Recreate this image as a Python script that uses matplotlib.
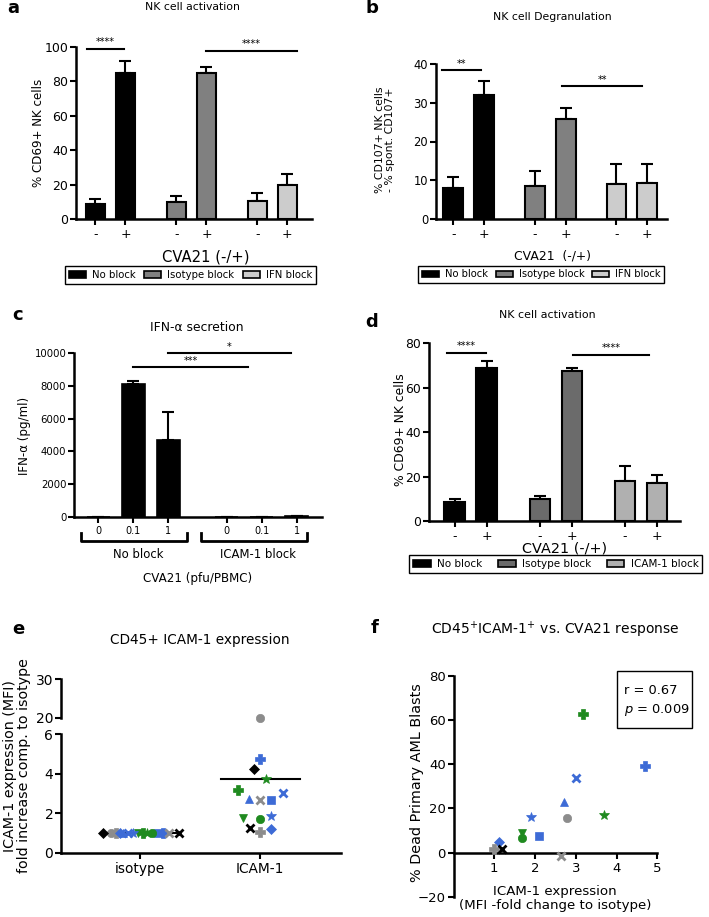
import matplotlib
matplotlib.use("Agg")
import matplotlib.pyplot as plt
from matplotlib.patches import Patch, Rectangle

W, H = 709, 917

# ---- data ----
groups_ab = ["No block", "Isotype block", "IFN block"]
groups_d = ["No block", "Isotype block", "ICAM-1 block"]
cva_ticks = ["-", "+", "-", "+", "-", "+"]

act_a = [8.5, 84.7, 10.1, 85.1, 10.5, 19.8]
act_a_err = [3.1, 7.2, 3.3, 3.4, 4.8, 6.2]

degr_b = [7.9, 32.0, 8.5, 25.8, 9.0, 9.3]
degr_b_err = [3.0, 3.7, 3.9, 2.8, 5.1, 4.8]

ifn_doses = ["0", "0.1", "1", "0", "0.1", "1"]
ifn_c = [0, 8150, 4700, 0, 0, 60]
ifn_c_err = [0, 180, 1730, 0, 0, 0]
groups_c = ["No block", "ICAM-1 block"]

act_d = [8.7, 69.0, 10.1, 67.7, 17.8, 17.2]
act_d_err = [1.1, 3.0, 1.1, 1.3, 6.8, 3.3]

# panel e/f samples
e_markers = ["o", "P", "D", "*", "P", "x", "^", "x", "s", "v", "o", "*", "x", "P", "D"]
e_colors = ["gray", "blue", "black", "green", "green", "blue", "blue", "gray", "blue",
            "green", "green", "blue", "black", "gray", "blue"]
e_isotype = [1.0] * 15
e_icam = [20.0, 4.73, 4.24, 3.72, 3.18, 3.04, 2.70, 2.67, 2.67, 1.74, 1.71, 1.88, 1.24, 1.03, 1.19]
e_iso_dx = [-0.24, 0.19, -0.31, 0.06, 0.02, -0.10, -0.14, 0.24, 0.15, -0.02, 0.10, -0.06, 0.32, -0.20, -0.17]
e_icam_dx = [0, 0, -0.056, 0.047, -0.186, 0.186, -0.097, 0, 0.092, -0.144, 0, 0.092, -0.089, 0, 0.092]

f_markers = ["P", "P", "x", "^", "*", "o", "*", "v", "o", "s", "D", "P", "x", "x"]
f_colors = ["green", "blue", "blue", "blue", "blue", "gray", "green", "green", "green",
            "blue", "blue", "gray", "black", "gray"]
f_icam = [3.17, 4.71, 3.0, 2.70, 1.91, 2.79, 3.70, 1.67, 1.67, 2.09, 1.12, 1.0, 1.2, 2.63]
f_dead = [62.8, 39.0, 34.0, 23.1, 16.3, 15.7, 17.1, 8.8, 6.5, 7.6, 5.0, 1.5, 1.5, -1.5]

palette = {"gray": "#8c8c8c", "blue": "#3d6bd6", "green": "#1f8a1f", "black": "black"}

fig = plt.figure(figsize=(W / 100, H / 100), dpi=100)


def rect(l, t, r, b):
    return [l / W, 1 - b / H, (r - l) / W, (b - t) / H]


def ftext(x, y, s, **kw):
    kw.setdefault("ha", "center")
    kw.setdefault("va", "center")
    return fig.text(x / W, 1 - y / H, s, **kw)


def style(ax, tsize):
    for s in ["top", "right"]:
        ax.spines[s].set_visible(False)
    for s in ["left", "bottom"]:
        ax.spines[s].set_linewidth(1.8)
    ax.tick_params(direction="out", length=4.5, width=1.5, labelsize=tsize)
    ax.tick_params(axis="y", pad=1)
    ax.tick_params(axis="x", pad=2)


def bar_panel(r, vals, errs, colors, gap, lims, width, ylim, yticks, tsize):
    ax = fig.add_axes(rect(*r))
    pos = [g * gap + i for g in range(len(vals) // 2) for i in range(2)]
    ax.bar(pos, vals, width=width, color=colors, edgecolor="black", linewidth=1.5, zorder=2)
    ax.errorbar(pos, vals, yerr=[[0] * len(vals), errs], fmt="none", ecolor="black",
                elinewidth=1.5, capsize=4, capthick=1.5, zorder=1)
    ax.set_xlim(*lims)
    ax.set_ylim(*ylim)
    ax.set_yticks(yticks)
    ax.set_xticks(pos)
    style(ax, tsize)
    return ax, pos


def sig(ax, x0, x1, y, label, size=7, dy=1.0):
    ax.plot([x0, x1], [y, y], color="black", lw=1.5, clip_on=False)
    ax.text((x0 + x1) / 2, y + dy, label, ha="center", va="bottom", fontsize=size)


def legend(colors, labels, cx, cy, size, colsp):
    h = [Patch(facecolor=c, edgecolor="black", linewidth=1.2) for c in colors]
    leg = fig.legend(h, labels, ncol=3, loc="center", bbox_to_anchor=(cx / W, 1 - cy / H),
                     bbox_transform=fig.transFigure, fontsize=size, frameon=True, fancybox=False,
                     edgecolor="black", framealpha=1, borderpad=0.35, handlelength=1.7,
                     handleheight=0.6, handletextpad=0.6, columnspacing=colsp)
    leg.get_frame().set_linewidth(1.0)


# ---- a ----
cols_ab = ["black", "#808080", "#cccccc"]
bar_cols_ab = [c for c in cols_ab for _ in range(2)]
ax, pos = bar_panel((76, 47, 312, 219), act_a, act_a_err, bar_cols_ab, 2.7, (-0.65, 7.22), 0.63,
                    (0, 100), range(0, 101, 20), 9)
ax.set_xticklabels(cva_ticks, fontsize=9)
sig(ax, -0.27, 0.95, 98.8, "****", dy=1.0)
sig(ax, 3.7, 6.72, 97.7, "****", dy=1.0)
ftext(38, 133, "% CD69+ NK cells", rotation=90, fontsize=8.6)
ftext(206, 257, "CVA21 (-/+)", fontsize=10.6)
ftext(192, 7, "NK cell activation", fontsize=7.8)
ftext(13, 8, "a", fontsize=13, fontweight="bold")
legend(cols_ab, groups_ab, 190.5, 275, 7.3, 0.8)

# ---- b ----
ax, pos = bar_panel((435.7, 64, 667, 219), degr_b, degr_b_err, bar_cols_ab, 2.65, (-0.57, 6.94), 0.64,
                    (0, 40), range(0, 41, 10), 8.3)
ax.set_xticklabels(cva_ticks, fontsize=9)
sig(ax, -0.36, 0.89, 38.5, "**", dy=0.3)
sig(ax, 3.52, 6.14, 34.4, "**", dy=0.3)
ftext(385, 140, "% CD107+ NK cells\n- % spont. CD107+", rotation=90, fontsize=7.8, linespacing=1.1)
ftext(552, 256, "CVA21  (-/+)", fontsize=8.9)
ftext(552, 17, "NK cell Degranulation", fontsize=7.8)
ftext(372, 8, "b", fontsize=13, fontweight="bold")
legend(cols_ab, groups_ab, 541.3, 274.5, 7.2, 0.8)

# ---- c ----
ax = fig.add_axes(rect(74, 353.3, 321.7, 516.7))
pos_c = [g * 3.67 + i for g in range(2) for i in range(3)]
ax.bar(pos_c, ifn_c, width=0.65, color="black", edgecolor="black", linewidth=1.2, zorder=2)
ax.errorbar(pos_c, ifn_c, yerr=[[0] * 6, ifn_c_err], fmt="none", ecolor="black",
            elinewidth=1.5, capsize=4, capthick=1.5, zorder=1)
ax.set_xlim(-0.69, 6.38)
ax.set_ylim(0, 10000)
ax.set_yticks(range(0, 10001, 2000))
ax.set_xticks(pos_c)
ax.set_xticklabels(ifn_doses, fontsize=8.5)
style(ax, 7)
ax.tick_params(axis="y", labelsize=7.3)
sig(ax, 0.98, 4.29, 9185, "***", dy=60)
sig(ax, 2.0, 5.5, 10006, "*", dy=60)
for (x0, x1), lab in zip([(81, 187.3), (200.7, 307.3)], groups_c):
    fig.add_artist(plt.Line2D([x0 / W, x0 / W, x1 / W, x1 / W],
                              [1 - 533 / H, 1 - 541 / H, 1 - 541 / H, 1 - 533 / H],
                              color="black", lw=2))
    ftext((x0 + x1) / 2 + 4, 554.3, lab, fontsize=8.4)
ftext(25, 436, "IFN-α (pg/ml)", rotation=90, fontsize=8.6)
ftext(197.5, 578.3, "CVA21 (pfu/PBMC)", fontsize=8.6)
ftext(197, 327, "IFN-α secretion", fontsize=8.9)
ftext(18, 315, "c", fontsize=13, fontweight="bold")

# ---- d ----
cols_d = ["black", "#6b6b6b", "#b0b0b0"]
bar_cols_d = [c for c in cols_d for _ in range(2)]
ax, pos = bar_panel((429, 343.3, 680, 521), act_d, act_d_err, bar_cols_d, 2.66, (-0.80, 7.04), 0.64,
                    (0, 80), range(0, 81, 20), 8.9)
ax.set_xticklabels(cva_ticks, fontsize=9)
sig(ax, -0.25, 0.98, 75.8, "****", dy=0.8)
sig(ax, 3.71, 6.08, 74.7, "****", dy=0.8)
ftext(400, 430, "% CD69+ NK cells", rotation=90, fontsize=8.9)
ftext(565, 548.3, "CVA21 (-/+)", fontsize=10.4)
ftext(547, 315, "NK cell activation", fontsize=7.9)
ftext(372, 322, "d", fontsize=13, fontweight="bold")
legend(cols_d, groups_d, 555.8, 564, 7.5, 1.5)

# ---- e ----
ax_t = fig.add_axes(rect(61, 679.3, 340.7, 717.7))
ax_b = fig.add_axes(rect(61, 734.3, 340.7, 852.7))
for a_ in (ax_t, ax_b):
    style(a_, 10)
    a_.set_xlim(-0.66, 1.67)
ax_t.spines["bottom"].set_visible(False)
ax_t.set_xticks([])
ax_t.set_ylim(20, 30)
ax_t.set_yticks([20, 30])
ax_b.set_ylim(0, 6)
ax_b.set_yticks([0, 2, 4, 6])
ax_b.set_xticks([0, 1])
ax_b.set_xticklabels(["isotype", "ICAM-1"], fontsize=9.9)


def pt(ax, x, y, m, c, clip=True):
    big = {"*": 7.5, "x": 6, "P": 6.5, "D": 5}.get(m, 6)
    ax.plot(x, y, marker=m, color=palette[c], ms=big, mew=2 if m == "x" else 0.5,
            linestyle="none", clip_on=clip, zorder=3)


for m, c, v, dx in zip(e_markers, e_colors, e_isotype, e_iso_dx):
    pt(ax_b, 0 + dx, v, m, c)
for m, c, v, dx in zip(e_markers, e_colors, e_icam, e_icam_dx):
    if v >= 20:
        pt(ax_t, 1 + dx, v, m, c, clip=False)
    else:
        pt(ax_b, 1 + dx, v, m, c)
for i, vals in enumerate([e_isotype, e_icam]):
    mean = sum(vals) / len(vals)
    ax_b.plot([i - 0.33, i + 0.33], [mean, mean], color="black", lw=1.5, zorder=2)
ftext(17, 766, "ICAM-1 expression (MFI)\nfold increase comp. to isotype", rotation=90,
      fontsize=10.3, linespacing=1.0)
ftext(200, 640, "CD45+ ICAM-1 expression", fontsize=9.8)
ftext(18, 629, "e", fontsize=13, fontweight="bold")

# ---- f ----
ax = fig.add_axes(rect(453.5, 676, 657.3, 896.7))
style(ax, 9.5)
ax.spines["bottom"].set_position(("data", 0))
ax.set_xlim(0, 5)
ax.set_ylim(-20, 80)
ax.set_xticks([1, 2, 3, 4, 5])
ax.set_yticks(range(-20, 81, 20))
for m, c, x, y in zip(f_markers, f_colors, f_icam, f_dead):
    pt(ax, x, y, m, c)
fig.add_artist(Rectangle((616.7 / W, 1 - 728.3 / H), 75 / W, 57.6 / H, transform=fig.transFigure,
                         facecolor="white", edgecolor="black", lw=1.0))
ftext(624, 690, "r = 0.67", fontsize=9.4, ha="left")
ftext(624, 710, "$p$ = 0.009", fontsize=9.4, ha="left")
ftext(416.7, 782.5, "% Dead Primary AML Blasts", rotation=90, fontsize=10.4)
ftext(554.7, 891.7, "ICAM-1 expression", fontsize=9.6)
ftext(554.7, 905, "(MFI -fold change to isotype)", fontsize=9.6)
ftext(555, 630, "CD45$^{+}$ICAM-1$^{+}$ vs. CVA21 response", fontsize=10)
ftext(375, 628, "f", fontsize=13, fontweight="bold")

fig.savefig("out.png", dpi=100)
